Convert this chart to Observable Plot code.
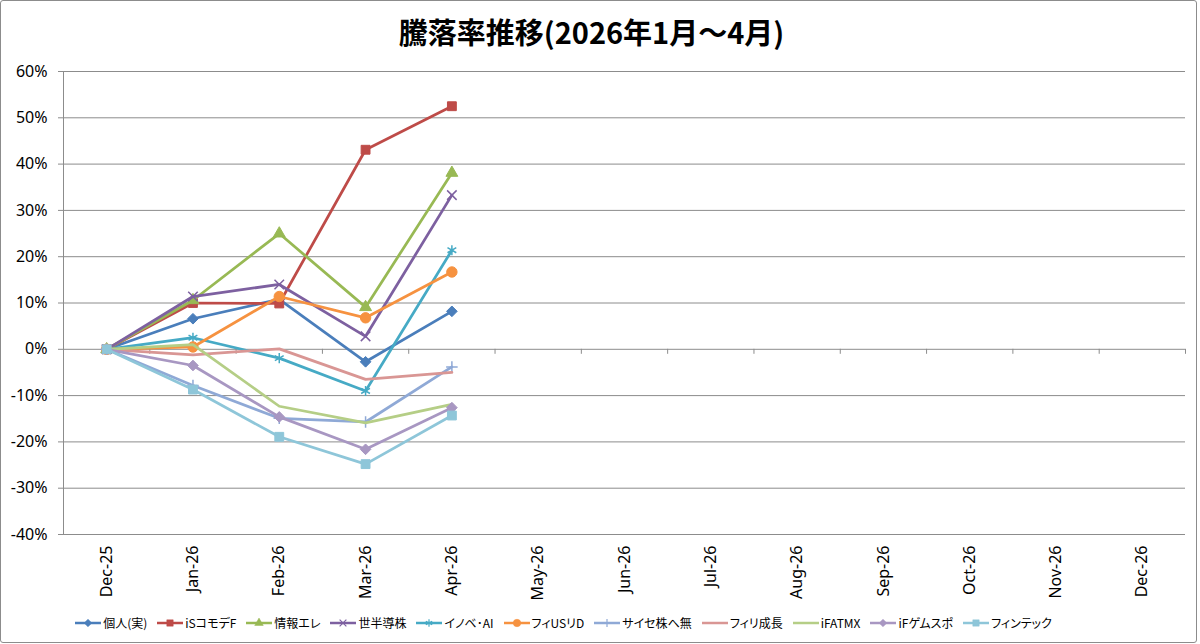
<!DOCTYPE html>
<html><head><meta charset="utf-8">
<script src="https://cdn.jsdelivr.net/npm/d3@7"></script>
<script src="https://cdn.jsdelivr.net/npm/@observablehq/plot@0.6"></script>
<style>
html,body{margin:0;padding:0;background:#fff;}
#chart{position:relative;width:1200px;height:644px;overflow:hidden;font-family:"Noto Sans","Noto Sans CJK JP",sans-serif;}
#frame{position:absolute;left:0;top:0;width:1197px;height:643px;box-sizing:border-box;border:1px solid #8c8c8c;border-radius:3px;}
#title{position:absolute;left:0;top:12px;width:1183px;text-align:center;font-weight:bold;font-size:29px;font-family:"Noto Sans CJK JP",sans-serif;line-height:38px;color:#000;white-space:nowrap;}
#plot{position:absolute;left:0;top:60px;}
#legend{position:absolute;left:0;top:614px;width:1127px;display:flex;justify-content:center;gap:10px;font-size:12px;font-family:"Noto Sans CJK JP",sans-serif;font-feature-settings:"palt";color:#000;white-space:nowrap;}
#legend .item{display:flex;align-items:center;gap:2px;}
</style>
</head><body>
<div id="chart">
  <div id="frame"></div>
  <div id="title"></div>
  <div id="plot"></div>
  <div id="legend"></div>
</div>
<script>
// ---- data ----
const titleText = "騰落率推移(2026年1月～4月)";
const months = ["Dec-25","Jan-26","Feb-26","Mar-26","Apr-26","May-26","Jun-26","Jul-26","Aug-26","Sep-26","Oct-26","Nov-26","Dec-26"];
const seriesNames = ["個人(実)","iSコモデF","情報エレ","世半導株","イノベ･AI","フィUSリD","サイセ株へ無","フィリ成長","iFATMX","iFゲムスポ","フィンテック"];
const kojin      = [0, 0.066, 0.108, -0.027, 0.082];
const isCommo    = [0, 0.100, 0.099, 0.431, 0.525];
const johoEle    = [0, 0.106, 0.250, 0.091, 0.381];
const sehanDo    = [0, 0.114, 0.140, 0.028, 0.333];
const inobeAI    = [0, 0.025, -0.019, -0.090, 0.214];
const fiUSReit   = [0, 0.005, 0.114, 0.068, 0.167];
const saise      = [0, -0.078, -0.149, -0.157, -0.038];
const firiSeicho = [0, -0.012, 0.001, -0.065, -0.050];
const ifATMX     = [0, 0.010, -0.123, -0.159, -0.119];
const ifGameSpo  = [0, -0.035, -0.146, -0.216, -0.126];
const fintech    = [0, -0.087, -0.189, -0.248, -0.143];
const yTicks = [-0.4,-0.3,-0.2,-0.1,0,0.1,0.2,0.3,0.4,0.5,0.6];

// ---- styles ----
const colors = ["#4A7EBB","#BE4B48","#98B954","#7D60A0","#46AAC5","#F69240","#8FA9D6","#D99694","#B5CE86","#A897C2","#8EC6D9"];
const markers = [d3.symbolDiamond2, d3.symbolSquare, d3.symbolTriangle, d3.symbolTimes, d3.symbolAsterisk, d3.symbolCircle, d3.symbolPlus, null, null, d3.symbolDiamond2, d3.symbolSquare];
const markerR = [4.8, 5, 4.4, 4.4, 4.8, 5.2, 3.8, 0, 0, 4.8, 5];
const strokeOnly = new Set([d3.symbolTimes, d3.symbolAsterisk, d3.symbolPlus]);
const grid = "#8c8c8c";

const seriesValues = [kojin, isCommo, johoEle, sehanDo, inobeAI, fiUSReit, saise, firiSeicho, ifATMX, ifGameSpo, fintech];
const rows = [];
seriesNames.forEach((name, si) => seriesValues[si].forEach((v, i) => rows.push({series: name, i, month: months[i], value: v})));

document.getElementById("title").textContent = titleText;

const fmtPct = d => d3.format(".0%")(d).replace("\u2212", "-");
const bounds = d3.range(months.length + 1).map(i => i - 0.5);

const marks = [
  Plot.ruleY(yTicks, {stroke: grid, strokeWidth: 1}),
  Plot.ruleX([-0.5], {stroke: grid, strokeWidth: 1}),
  Plot.ruleX(bounds, {x: d => d, y1: 0, y2: -0.0108, stroke: grid, strokeWidth: 1}),
  Plot.axisY(yTicks, {label: null, tickFormat: fmtPct, tickSize: 5, tickPadding: 11, fontSize: 16, stroke: grid, fill: "#000"}),
  Plot.axisX(d3.range(months.length), {label: null, anchor: "bottom", tickFormat: i => months[i], tickRotate: -90, tickSize: 0, tickPadding: 11, fontSize: 16, fill: "#000"})
];
seriesNames.forEach((name, si) => {
  const data = rows.filter(r => r.series === name);
  marks.push(Plot.line(data, {x: "i", y: "value", stroke: "series", strokeWidth: 2.75, strokeLinejoin: "round"}));
  const sym = markers[si];
  if (sym) {
    if (strokeOnly.has(sym)) {
      marks.push(Plot.dot(data, {x: "i", y: "value", symbol: sym, r: markerR[si], stroke: "series", strokeWidth: 1.5, fill: "none"}));
    } else {
      marks.push(Plot.dot(data, {x: "i", y: "value", symbol: sym, r: markerR[si], fill: "series", stroke: "series", strokeWidth: 1}));
    }
  }
});

const chart = Plot.plot({
  width: 1200, height: 545,
  marginLeft: 63, marginRight: 15, marginTop: 11, marginBottom: 71,
  x: {type: "linear", domain: [-0.5, months.length - 0.5], label: null},
  y: {type: "linear", domain: [-0.4, 0.6], label: null},
  color: {domain: seriesNames, range: colors},
  style: {color: "#000", background: "transparent", fontFamily: "'Noto Sans','Noto Sans CJK JP',sans-serif"},
  marks
});
document.getElementById("plot").appendChild(chart);

// ---- legend ----
const legend = d3.select("#legend");
seriesNames.forEach((name, si) => {
  const item = legend.append("div").attr("class", "item");
  const svg = item.append("svg").attr("width", 26).attr("height", 12);
  svg.append("line").attr("x1", 0).attr("x2", 26).attr("y1", 6).attr("y2", 6)
    .attr("stroke", colors[si]).attr("stroke-width", 2.5);
  const sym = markers[si];
  if (sym) {
    const size = Math.PI * Math.pow(markerR[si] * 0.72, 2);
    const p = svg.append("path").attr("transform", "translate(13,6)").attr("d", d3.symbol(sym, size)());
    if (strokeOnly.has(sym)) p.attr("fill", "none").attr("stroke", colors[si]).attr("stroke-width", 1.2);
    else p.attr("fill", colors[si]).attr("stroke", colors[si]).attr("stroke-width", 0.5);
  }
  item.append("span").text(name);
});
</script>
</body></html>
